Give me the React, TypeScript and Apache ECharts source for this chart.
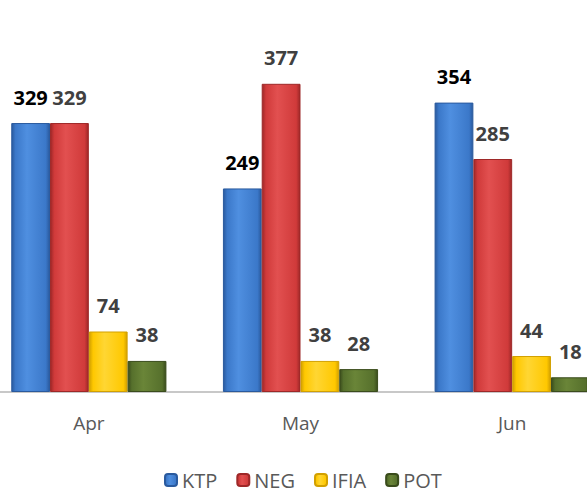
import React, { useEffect, useRef } from "react";
import * as echarts from "echarts";

const categories = ["Apr", "May", "Jun"];
const seriesNames = ["KTP", "NEG", "IFIA", "POT"];
const ktpValues = [329, 249, 354];
const negValues = [329, 377, 285];
const ifiaValues = [74, 38, 44];
const potValues = [38, 28, 18];

const palette = [
  { light: "#4f8fe0", mid: "#3b78c9", dark: "#2a5a9e", label: "#000000" },
  { light: "#e25050", mid: "#d03a3a", dark: "#9e2828", label: "#404040" },
  { light: "#ffd633", mid: "#ffc800", dark: "#d2a000", label: "#404040" },
  { light: "#6a8538", mid: "#56702c", dark: "#3a4c1c", label: "#404040" },
];

function grad(c: { light: string; mid: string; dark: string }) {
  return new echarts.graphic.LinearGradient(0, 0, 1, 0, [
    { offset: 0, color: c.dark },
    { offset: 0.1, color: c.mid },
    { offset: 0.4, color: c.light },
    { offset: 0.9, color: c.mid },
    { offset: 1, color: c.dark },
  ]);
}

const SHIFT = 17;

export default function App() {
  const ref = useRef<HTMLDivElement>(null);
  useEffect(() => {
    if (!ref.current) return;
    const chart = echarts.init(ref.current, undefined, { renderer: "svg" });
    const dataSets = [ktpValues, negValues, ifiaValues, potValues];
    chart.setOption({
      animation: false,
      legend: {
        data: seriesNames,
        left: 159 + SHIFT,
        top: 465,
        itemWidth: 12,
        itemHeight: 12,
        itemGap: 19,
        textStyle: { fontFamily: "Open Sans", fontSize: 20, color: "#595959" },
      },
      grid: { left: 0, right: 0, top: 65, bottom: 101, containLabel: false },
      xAxis: {
        type: "category",
        data: categories,
        axisLine: { lineStyle: { color: "#c8c8c8", width: 2 } },
        axisTick: { show: false },
        axisLabel: {
          fontFamily: "Open Sans",
          fontSize: 19,
          color: "#595959",
          margin: 21,
        },
      },
      yAxis: {
        type: "value",
        min: 0,
        max: 400,
        show: false,
        splitLine: { show: false },
      },
      series: seriesNames.map((name, i) => ({
        name,
        type: "bar",
        data: dataSets[i],
        barGap: "0%",
        barCategoryGap: "26.7%",
        itemStyle: {
          color: grad(palette[i]),
          borderColor: palette[i].dark,
          borderWidth: 1,
        },
        label: {
          show: true,
          position: "top",
          distance: 16,
          fontFamily: "Open Sans",
          fontWeight: "bold",
          fontSize: 20,
          color: palette[i].label,
        },
      })),
    });
    return () => chart.dispose();
  }, []);
  return (
    <div
      style={{
        position: "fixed",
        left: 0,
        top: 0,
        width: 587,
        height: 493,
        overflow: "hidden",
        background: "#ffffff",
      }}
    >
      <div
        ref={ref}
        style={{ position: "absolute", left: -SHIFT, top: 0, width: 635, height: 493 }}
      />
    </div>
  );
}
